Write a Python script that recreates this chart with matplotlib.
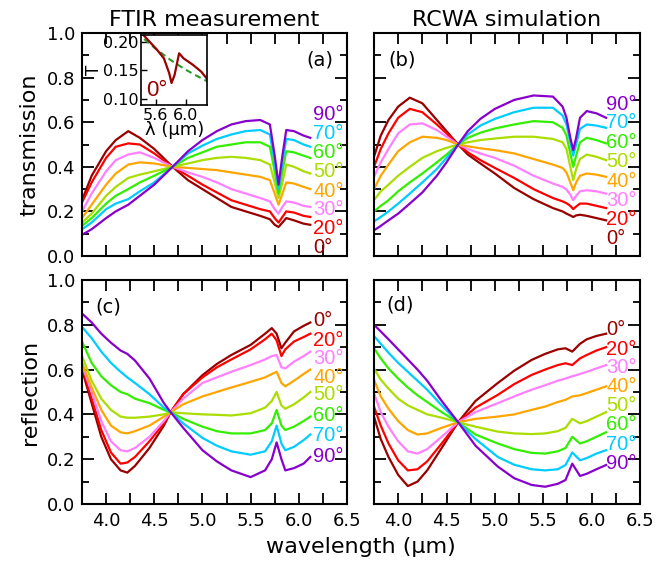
import matplotlib.pyplot as plt
from matplotlib.ticker import MultipleLocator

plt.rcParams['font.family'] = 'DejaVu Sans'

angles = ['0°', '20°', '30°', '40°', '50°', '60°', '70°', '90°']
colors = ['#990000', '#ff0000', '#ff80ff', '#ffa500', '#aadd00', '#33ee00', '#00ccff', '#8800cc']

# (a) FTIR transmission, one row per angle (0,20,30,40,50,60,70,90)
wl_a = [3.75, 3.85, 4.0, 4.1, 4.23, 4.35, 4.5, 4.69, 4.85, 5.0, 5.15, 5.3, 5.45, 5.6,
        5.7, 5.75, 5.79, 5.83, 5.87, 5.95, 6.05, 6.12]
T_ftir = [
    [0.25, 0.36, 0.47, 0.52, 0.56, 0.53, 0.48, 0.40, 0.34, 0.30, 0.26, 0.22, 0.20, 0.18, 0.165, 0.14, 0.13, 0.15, 0.17, 0.16, 0.145, 0.14],
    [0.24, 0.33, 0.44, 0.49, 0.505, 0.50, 0.46, 0.40, 0.36, 0.32, 0.285, 0.25, 0.23, 0.21, 0.20, 0.17, 0.15, 0.175, 0.20, 0.195, 0.18, 0.175],
    [0.20, 0.28, 0.38, 0.43, 0.455, 0.465, 0.44, 0.40, 0.375, 0.355, 0.33, 0.30, 0.28, 0.26, 0.245, 0.21, 0.19, 0.22, 0.245, 0.24, 0.225, 0.22],
    [0.17, 0.23, 0.32, 0.37, 0.41, 0.42, 0.415, 0.40, 0.395, 0.39, 0.385, 0.375, 0.365, 0.355, 0.34, 0.28, 0.23, 0.28, 0.33, 0.325, 0.31, 0.30],
    [0.15, 0.19, 0.27, 0.31, 0.35, 0.365, 0.38, 0.40, 0.415, 0.43, 0.44, 0.445, 0.44, 0.43, 0.41, 0.33, 0.26, 0.33, 0.41, 0.40, 0.38, 0.37],
    [0.135, 0.17, 0.235, 0.27, 0.30, 0.33, 0.36, 0.40, 0.44, 0.465, 0.49, 0.50, 0.51, 0.51, 0.49, 0.38, 0.28, 0.38, 0.47, 0.465, 0.45, 0.44],
    [0.12, 0.15, 0.21, 0.235, 0.255, 0.29, 0.33, 0.40, 0.46, 0.495, 0.525, 0.545, 0.56, 0.565, 0.545, 0.42, 0.30, 0.42, 0.525, 0.52, 0.50, 0.49],
    [0.095, 0.12, 0.17, 0.20, 0.23, 0.27, 0.32, 0.40, 0.47, 0.52, 0.56, 0.59, 0.605, 0.61, 0.59, 0.45, 0.32, 0.45, 0.565, 0.56, 0.54, 0.53],
]

# (b) RCWA transmission
wl_b = [3.75, 3.82, 3.9, 4.0, 4.12, 4.25, 4.4, 4.5, 4.62, 4.72, 4.85, 5.0, 5.2, 5.4, 5.6, 5.7,
        5.74, 5.78, 5.81, 5.84, 5.88, 5.95, 6.05, 6.15]
T_rcwa = [
    [0.445, 0.54, 0.61, 0.67, 0.71, 0.685, 0.61, 0.56, 0.50, 0.455, 0.415, 0.37, 0.305, 0.255, 0.215, 0.20, 0.19, 0.182, 0.175, 0.182, 0.185, 0.18, 0.17, 0.16],
    [0.40, 0.48, 0.55, 0.62, 0.66, 0.645, 0.59, 0.55, 0.50, 0.465, 0.43, 0.395, 0.35, 0.30, 0.26, 0.245, 0.237, 0.225, 0.21, 0.222, 0.235, 0.235, 0.225, 0.215],
    [0.355, 0.42, 0.48, 0.55, 0.59, 0.595, 0.565, 0.535, 0.50, 0.48, 0.46, 0.44, 0.405, 0.36, 0.325, 0.31, 0.298, 0.275, 0.25, 0.27, 0.29, 0.295, 0.29, 0.28],
    [0.30, 0.36, 0.41, 0.47, 0.51, 0.535, 0.53, 0.52, 0.50, 0.492, 0.483, 0.475, 0.46, 0.435, 0.41, 0.395, 0.375, 0.33, 0.295, 0.33, 0.36, 0.37, 0.365, 0.355],
    [0.25, 0.29, 0.32, 0.36, 0.40, 0.44, 0.47, 0.485, 0.50, 0.51, 0.52, 0.527, 0.535, 0.535, 0.525, 0.51, 0.48, 0.40, 0.34, 0.39, 0.435, 0.455, 0.445, 0.43],
    [0.20, 0.225, 0.25, 0.29, 0.33, 0.37, 0.42, 0.455, 0.50, 0.53, 0.553, 0.572, 0.59, 0.605, 0.60, 0.575, 0.54, 0.46, 0.40, 0.45, 0.51, 0.53, 0.52, 0.505],
    [0.155, 0.175, 0.20, 0.235, 0.28, 0.33, 0.39, 0.44, 0.50, 0.545, 0.585, 0.615, 0.645, 0.665, 0.665, 0.63, 0.59, 0.51, 0.45, 0.50, 0.57, 0.59, 0.585, 0.575],
    [0.115, 0.135, 0.16, 0.19, 0.235, 0.285, 0.36, 0.42, 0.50, 0.56, 0.615, 0.66, 0.70, 0.72, 0.715, 0.67, 0.62, 0.53, 0.475, 0.53, 0.62, 0.65, 0.64, 0.62],
]

# (c) FTIR reflection
wl_c = [3.75, 3.85, 3.95, 4.05, 4.15, 4.22, 4.3, 4.45, 4.6, 4.67, 4.8, 5.0, 5.15, 5.3,
        5.5, 5.65, 5.72, 5.77, 5.82, 5.86, 5.95, 6.05, 6.12]
R_ftir = [
    [0.60, 0.45, 0.30, 0.20, 0.15, 0.14, 0.17, 0.25, 0.35, 0.41, 0.49, 0.575, 0.625, 0.665, 0.71, 0.76, 0.785, 0.76, 0.695, 0.72, 0.77, 0.795, 0.81],
    [0.61, 0.47, 0.33, 0.23, 0.18, 0.185, 0.21, 0.28, 0.36, 0.41, 0.49, 0.565, 0.61, 0.645, 0.69, 0.735, 0.76, 0.73, 0.66, 0.69, 0.725, 0.745, 0.76],
    [0.62, 0.50, 0.37, 0.28, 0.24, 0.235, 0.25, 0.30, 0.37, 0.41, 0.47, 0.54, 0.565, 0.59, 0.62, 0.645, 0.66, 0.665, 0.61, 0.605, 0.635, 0.66, 0.68],
    [0.63, 0.52, 0.42, 0.35, 0.32, 0.315, 0.325, 0.35, 0.39, 0.41, 0.445, 0.48, 0.50, 0.52, 0.545, 0.565, 0.58, 0.59, 0.54, 0.525, 0.55, 0.58, 0.60],
    [0.66, 0.55, 0.47, 0.42, 0.39, 0.385, 0.385, 0.39, 0.40, 0.41, 0.405, 0.40, 0.398, 0.395, 0.405, 0.43, 0.46, 0.50, 0.44, 0.425, 0.445, 0.475, 0.50],
    [0.725, 0.63, 0.57, 0.53, 0.50, 0.49, 0.47, 0.45, 0.42, 0.41, 0.38, 0.345, 0.325, 0.315, 0.315, 0.33, 0.36, 0.42, 0.35, 0.33, 0.345, 0.37, 0.39],
    [0.79, 0.74, 0.68, 0.63, 0.59, 0.565, 0.54, 0.49, 0.43, 0.41, 0.36, 0.295, 0.26, 0.235, 0.22, 0.235, 0.28, 0.35, 0.27, 0.24, 0.255, 0.285, 0.31],
    [0.85, 0.81, 0.76, 0.72, 0.685, 0.67, 0.64, 0.56, 0.45, 0.41, 0.34, 0.24, 0.19, 0.15, 0.12, 0.15, 0.20, 0.275, 0.20, 0.15, 0.16, 0.18, 0.21],
]

# (d) RCWA reflection
wl_d = [3.75, 3.82, 3.9, 4.0, 4.1, 4.2, 4.3, 4.45, 4.62, 4.8, 5.03, 5.2, 5.38, 5.52, 5.65,
        5.73, 5.8, 5.88, 5.95, 6.05, 6.15]
R_rcwa = [
    [0.39, 0.29, 0.21, 0.13, 0.08, 0.10, 0.15, 0.25, 0.365, 0.46, 0.54, 0.595, 0.643, 0.67, 0.69, 0.695, 0.68, 0.715, 0.735, 0.75, 0.76],
    [0.435, 0.35, 0.27, 0.195, 0.15, 0.155, 0.19, 0.27, 0.365, 0.43, 0.487, 0.535, 0.576, 0.60, 0.62, 0.628, 0.62, 0.65, 0.665, 0.685, 0.70],
    [0.495, 0.41, 0.345, 0.28, 0.235, 0.225, 0.245, 0.30, 0.365, 0.41, 0.45, 0.48, 0.51, 0.53, 0.55, 0.56, 0.57, 0.58, 0.59, 0.605, 0.62],
    [0.555, 0.48, 0.425, 0.37, 0.33, 0.31, 0.315, 0.34, 0.365, 0.38, 0.39, 0.40, 0.42, 0.435, 0.455, 0.465, 0.48, 0.485, 0.495, 0.51, 0.525],
    [0.605, 0.555, 0.515, 0.47, 0.44, 0.42, 0.40, 0.385, 0.365, 0.345, 0.323, 0.315, 0.312, 0.315, 0.325, 0.34, 0.38, 0.36, 0.37, 0.39, 0.41],
    [0.695, 0.65, 0.605, 0.56, 0.52, 0.485, 0.455, 0.41, 0.365, 0.31, 0.27, 0.245, 0.228, 0.225, 0.235, 0.25, 0.30, 0.27, 0.28, 0.30, 0.32],
    [0.75, 0.715, 0.675, 0.63, 0.59, 0.55, 0.51, 0.44, 0.365, 0.29, 0.21, 0.175, 0.155, 0.15, 0.155, 0.174, 0.23, 0.195, 0.205, 0.225, 0.24],
    [0.80, 0.77, 0.735, 0.69, 0.645, 0.60, 0.55, 0.46, 0.365, 0.26, 0.167, 0.115, 0.085, 0.077, 0.09, 0.107, 0.18, 0.125, 0.135, 0.155, 0.174],
]

# angle label heights at the right end of each panel
lab_a = [0.04, 0.125, 0.21, 0.29, 0.38, 0.465, 0.55, 0.635]
lab_b = [0.08, 0.165, 0.25, 0.336, 0.425, 0.51, 0.60, 0.68]
lab_c = [0.82, 0.73, 0.65, 0.566, 0.487, 0.397, 0.304, 0.21]
lab_d = [0.777, 0.69, 0.61, 0.524, 0.44, 0.353, 0.267, 0.18]

# inset: 0 deg measurement near the resonance and smooth background
wl_in = [5.41, 5.44, 5.62, 5.71, 5.78, 5.81, 5.85, 5.91, 5.97, 6.09, 6.2, 6.28]
T_in = [0.215, 0.212, 0.186, 0.171, 0.145, 0.128, 0.142, 0.18, 0.171, 0.16, 0.148, 0.135]
wl_bg = [5.45, 5.6, 5.8, 6.0, 6.15, 6.28]
T_bg = [0.205, 0.188, 0.168, 0.151, 0.14, 0.131]

fig = plt.figure(figsize=(6.69, 5.63), dpi=100)

def setup(ax, bottom_labels, left_labels):
    ax.set_xlim(3.75, 6.5)
    ax.set_ylim(0, 1)
    ax.xaxis.set_major_locator(MultipleLocator(0.5))
    ax.xaxis.set_minor_locator(MultipleLocator(0.25))
    ax.yaxis.set_major_locator(MultipleLocator(0.2))
    ax.yaxis.set_minor_locator(MultipleLocator(0.1))
    ax.tick_params(which='both', direction='in', top=True, right=True, width=1.3,
                   labelbottom=bottom_labels, labelleft=left_labels, labelsize=13)
    ax.tick_params(axis='x', which='both', length=8, pad=6)
    ax.tick_params(axis='y', which='major', length=8.5, pad=5)
    ax.tick_params(axis='y', which='minor', length=5)
    for s in ax.spines.values():
        s.set_linewidth(1.5)

def draw(ax, wl, curves, labs):
    for c, col in zip(curves, colors):
        ax.plot(wl, c, color=col, lw=1.6)
    for a, col, y in zip(angles, colors, labs):
        ax.text(6.15, y, a, color=col, fontsize=14.5, ha='left', va='center',
                family='Liberation Sans', clip_on=False)

ax_a = fig.add_axes([0.1226, 0.5453, 0.396, 0.396])
ax_b = fig.add_axes([0.559, 0.5453, 0.3976, 0.396])
ax_c = fig.add_axes([0.1226, 0.1048, 0.396, 0.398])
ax_d = fig.add_axes([0.559, 0.1048, 0.3976, 0.398])

setup(ax_a, False, True)
setup(ax_b, False, False)
setup(ax_c, True, True)
setup(ax_d, True, False)

draw(ax_a, wl_a, T_ftir, lab_a)
draw(ax_b, wl_b, T_rcwa, lab_b)
draw(ax_c, wl_c, R_ftir, lab_c)
draw(ax_d, wl_d, R_rcwa, lab_d)

ax_a.set_title('FTIR measurement', fontsize=16, pad=5)
ax_b.set_title('RCWA simulation', fontsize=16, pad=5)
ax_a.set_ylabel('transmission', fontsize=16, labelpad=5)
ax_c.set_ylabel('reflection', fontsize=16, labelpad=5)
fig.text(0.54, 0.028, 'wavelength (µm)', fontsize=16, ha='center', va='center')

ax_a.text(0.898, 0.88, '(a)', transform=ax_a.transAxes, fontsize=14, ha='center', va='center')
ax_b.text(0.105, 0.88, '(b)', transform=ax_b.transAxes, fontsize=14, ha='center', va='center')
ax_c.text(0.098, 0.88, '(c)', transform=ax_c.transAxes, fontsize=14, ha='center', va='center')
ax_d.text(0.098, 0.89, '(d)', transform=ax_d.transAxes, fontsize=14, ha='center', va='center')

# inset
ins = fig.add_axes([0.211, 0.8135, 0.0987, 0.1243])
ins.plot(wl_bg, T_bg, color='#2a9a2a', lw=1.5, ls='--', dashes=(3, 2))
ins.plot(wl_in, T_in, color='#990000', lw=1.6)
ins.set_xlim(5.41, 6.28)
ins.set_ylim(0.0895, 0.212)
ins.set_xticks([5.6, 6.0])
ins.set_yticks([0.10, 0.15, 0.20])
ins.set_yticklabels(['0.10', '0.15', '0.20'])
ins.tick_params(direction='in', length=4, width=1, labelsize=11.5, pad=2)
for s in ins.spines.values():
    s.set_linewidth(1.2)
ins.set_xlabel('λ (µm)', fontsize=13, labelpad=-1)
ins.set_ylabel('T', fontsize=12, labelpad=0)
ins.text(0.07, 0.06, '0°', transform=ins.transAxes, color='#990000', fontsize=16,
         family='Liberation Sans', ha='left', va='bottom')

plt.savefig('out.png', dpi=100)
